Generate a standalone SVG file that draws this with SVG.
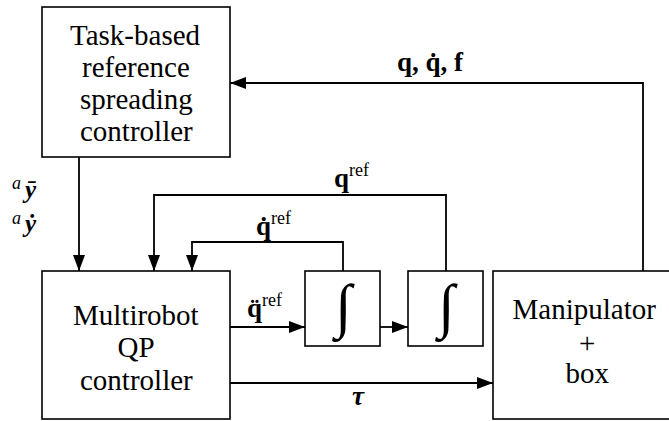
<svg xmlns="http://www.w3.org/2000/svg" width="669" height="421" viewBox="0 0 669 421">
<defs>
<marker id="ah" markerUnits="userSpaceOnUse" markerWidth="16" markerHeight="12" refX="16" refY="6" orient="auto">
<path d="M0,0 L16,6 L0,12 z" fill="#000"/>
</marker>
</defs>
<rect width="669" height="421" fill="#fff"/>
<g id="connectors" fill="none" stroke="#000" stroke-width="1.8">
<path d="M79,157 V271" marker-end="url(#ah)"/>
<path d="M446,271 V195 H154 V271" marker-end="url(#ah)"/>
<path d="M343,271 V242 H192 V271" marker-end="url(#ah)"/>
<path d="M230,327 H305" marker-end="url(#ah)"/>
<path d="M380,327 H408" marker-end="url(#ah)"/>
<path d="M230,383 H493" marker-end="url(#ah)"/>
<path d="M643,271 V83 H230" marker-end="url(#ah)"/>
</g>
<g id="task">
<rect x="42" y="7" width="188" height="150" fill="#fff" stroke="#000" stroke-width="1.6"/>
<text style="font-family:'Liberation Serif',serif" font-size="29" x="70" y="45">Task-based</text>
<text style="font-family:'Liberation Serif',serif" font-size="29" x="82" y="77">reference</text>
<text style="font-family:'Liberation Serif',serif" font-size="29" x="80" y="109">spreading</text>
<text style="font-family:'Liberation Serif',serif" font-size="29" x="80" y="141">controller</text>
</g>
<g id="qp">
<rect x="42" y="271" width="188" height="148" fill="#fff" stroke="#000" stroke-width="1.6"/>
<text style="font-family:'Liberation Serif',serif" font-size="29" x="73" y="325">Multirobot</text>
<text style="font-family:'Liberation Serif',serif" font-size="29" x="117.5" y="357">QP</text>
<text style="font-family:'Liberation Serif',serif" font-size="29" x="80" y="390">controller</text>
</g>
<g id="int1">
<rect x="305" y="271" width="75" height="75" fill="#fff" stroke="#000" stroke-width="1.6"/>
<text style="font-family:'Liberation Serif',serif" font-size="60" font-style="italic" x="335" y="326">∫</text>
</g>
<g id="int2">
<rect x="408" y="271" width="75" height="75" fill="#fff" stroke="#000" stroke-width="1.6"/>
<text style="font-family:'Liberation Serif',serif" font-size="60" font-style="italic" x="438" y="326">∫</text>
</g>
<g id="manip">
<rect x="493" y="271" width="180" height="148" fill="#fff" stroke="#000" stroke-width="1.6"/>
<text style="font-family:'Liberation Serif',serif" font-size="29" x="512.5" y="319">Manipulator</text>
<text style="font-family:'Liberation Serif',serif" font-size="29" x="579" y="353">+</text>
<text style="font-family:'Liberation Serif',serif" font-size="29" x="565.5" y="383">box</text>
</g>
<g id="labels">
<text style="font-family:'Liberation Serif',serif" font-size="27" font-weight="bold" x="397" y="71">q, q̇, f</text>
<text style="font-family:'Liberation Serif',serif" font-size="27" font-weight="bold" x="334" y="187">q<tspan font-size="18" font-weight="normal" dy="-11">ref</tspan></text>
<text style="font-family:'Liberation Serif',serif" font-size="27" font-weight="bold" x="256" y="235">q̇<tspan font-size="18" font-weight="normal" dy="-11">ref</tspan></text>
<text style="font-family:'Liberation Serif',serif" font-size="27" font-weight="bold" x="247" y="317">q̈<tspan font-size="18" font-weight="normal" dy="-11">ref</tspan></text>
<text style="font-family:'Liberation Serif',serif" font-size="27" font-weight="bold" font-style="italic" x="352" y="405">τ</text>
<text style="font-family:'Liberation Serif',serif" font-size="18" font-style="italic" x="12" y="189">a</text>
<text style="font-family:'Liberation Serif',serif" font-size="25" font-weight="bold" font-style="italic" x="25" y="198">ȳ</text>
<text style="font-family:'Liberation Serif',serif" font-size="18" font-style="italic" x="12" y="224">a</text>
<text style="font-family:'Liberation Serif',serif" font-size="25" font-weight="bold" font-style="italic" x="25" y="232">ẏ</text>
</g>
</svg>
